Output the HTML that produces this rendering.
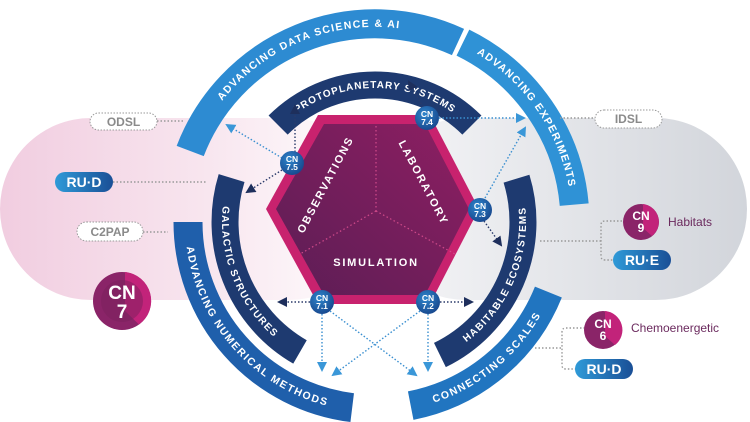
<!DOCTYPE html>
<html><head><meta charset="utf-8"><style>
html,body{margin:0;padding:0;background:#fff;width:750px;height:422px;overflow:hidden}
svg{display:block;font-family:"Liberation Sans",sans-serif;font-weight:bold}
</style></head><body>
<svg width="750" height="422" viewBox="0 0 750 422" xmlns="http://www.w3.org/2000/svg">
<defs>
<linearGradient id="gl" x1="0" x2="1" y1="0" y2="0"><stop offset="0" stop-color="#f1cde0"/><stop offset="0.55" stop-color="#f8e6ef"/><stop offset="1" stop-color="#ffffff"/></linearGradient>
<linearGradient id="gr" x1="0" x2="1" y1="0" y2="0"><stop offset="0" stop-color="#f6f6f8"/><stop offset="1" stop-color="#d2d5db"/></linearGradient>
<linearGradient id="hx" x1="0" x2="1" y1="1" y2="0"><stop offset="0" stop-color="#5b1d55"/><stop offset="1" stop-color="#8e1f62"/></linearGradient>
<linearGradient id="pill" x1="0" x2="1"><stop offset="0" stop-color="#2f9ad8"/><stop offset="1" stop-color="#1a4f96"/></linearGradient>
<radialGradient id="cn" cx="0.4" cy="0.35" r="0.7"><stop offset="0" stop-color="#2f86cc"/><stop offset="1" stop-color="#17468c"/></radialGradient>
<marker id="ad" markerWidth="10" markerHeight="10" refX="8" refY="5" orient="auto" markerUnits="userSpaceOnUse"><path d="M0,0 L10,5 L0,10 Z" fill="#1e2f5c"/></marker>
<marker id="al" markerWidth="10" markerHeight="10" refX="8" refY="5" orient="auto" markerUnits="userSpaceOnUse"><path d="M0,0 L10,5 L0,10 Z" fill="#3a97d8"/></marker>
<path id="p1" d="M190.2,151 A198 198 0 0 1 458,42"/>
<path id="p2" d="M462.9,42.6 A200 200 0 0 1 574.2,204.6"/>
<path id="p3" d="M188,222 A187 187 0 0 0 352.2,407.6"/>
<path id="p4" d="M410.7,405.6 A187 187 0 0 0 548.4,292.1"/>
<path id="q1" d="M278.1,125.1 A137 137 0 0 1 471.9,125.1"/>
<path id="q2" d="M231.6,178.1 A150 150 0 0 0 300,351.9"/>
<path id="q3" d="M439.9,355 A148 148 0 0 0 516.5,178.7"/>
</defs>
<rect x="0" y="118" width="380" height="182" rx="91" fill="url(#gl)"/>
<rect x="375" y="118" width="372" height="182" rx="91" fill="url(#gr)"/>

<g fill="none" stroke-width="29">
<use href="#p1" stroke="#2d8bd2"/>
<use href="#p2" stroke="#2f92d6"/>
<use href="#p3" stroke="#1f5fab"/>
<use href="#p4" stroke="#2175c0"/>
</g>
<g fill="none" stroke-width="27" stroke="#1e3a70">
<use href="#q1"/><use href="#q2"/><use href="#q3"/>
</g>
<g fill="#fff" font-size="10.5" letter-spacing="1.4" dominant-baseline="central" text-anchor="middle">
<text><textPath href="#p1" startOffset="50%">ADVANCING DATA SCIENCE &amp; AI</textPath></text>
<text><textPath href="#p2" startOffset="50%">ADVANCING EXPERIMENTS</textPath></text>
<text><textPath href="#p3" startOffset="50%">ADVANCING NUMERICAL METHODS</textPath></text>
<text><textPath href="#p4" startOffset="50%">CONNECTING SCALES</textPath></text>
</g>
<g fill="#fff" font-size="10" letter-spacing="1.1" dominant-baseline="central" text-anchor="middle">
<text><textPath href="#q1" startOffset="50%">PROTOPLANETARY SYSTEMS</textPath></text>
<text><textPath href="#q2" startOffset="50%">GALACTIC STRUCTURES</textPath></text>
<text><textPath href="#q3" startOffset="50%">HABITABLE ECOSYSTEMS</textPath></text>
</g>

<polygon points="318,115 430,115 479,209 430,304 318,304 266,209" fill="#c8226e"/>
<polygon points="324,124 425,124 469,209 425,295 324,295 276,209" fill="url(#hx)"/>
<g stroke="#d04a8a" stroke-width="1.2" stroke-dasharray="1.5 2.5" fill="none">
<line x1="376" y1="126" x2="376" y2="211"/>
<line x1="376" y1="211" x2="300" y2="254"/>
<line x1="376" y1="211" x2="455" y2="254"/>
</g>
<g fill="#fff" font-size="11" letter-spacing="1.8" text-anchor="middle" dominant-baseline="central">
<text transform="translate(326,185) rotate(-62)">OBSERVATIONS</text>
<text transform="translate(423,183) rotate(62)">LABORATORY</text>
<text x="376" y="263">SIMULATION</text>
</g>

<g fill="none" stroke-width="1.4" stroke-dasharray="1.5 2">
<g stroke="#2a3a6a">
<line x1="295" y1="152" x2="295" y2="106" marker-end="url(#ad)"/>
<line x1="282" y1="170" x2="247" y2="192" marker-end="url(#ad)"/>
<line x1="423" y1="107" x2="409" y2="82" marker-end="url(#ad)"/>
<line x1="484" y1="221" x2="501" y2="245" marker-end="url(#ad)"/>
<line x1="310" y1="302" x2="279" y2="302" marker-end="url(#ad)"/>
<line x1="440" y1="302" x2="472" y2="302" marker-end="url(#ad)"/>
</g>
<g stroke="#3a8fd0">
<line x1="282" y1="158" x2="227" y2="125" marker-end="url(#al)"/>
<line x1="439" y1="118" x2="524" y2="118" marker-end="url(#al)"/>
<line x1="485" y1="198" x2="525" y2="128" marker-end="url(#al)"/>
<line x1="322" y1="314" x2="322" y2="370" marker-end="url(#al)"/>
<line x1="330" y1="311" x2="416" y2="375" marker-end="url(#al)"/>
<line x1="428" y1="314" x2="428" y2="370" marker-end="url(#al)"/>
<line x1="420" y1="311" x2="333" y2="375" marker-end="url(#al)"/>
</g>
<g stroke="#999">
<line x1="157" y1="121" x2="185" y2="121"/>
<line x1="113" y1="182" x2="207" y2="182"/>
<line x1="143" y1="232" x2="168" y2="232"/>
<line x1="560" y1="118" x2="595" y2="118"/>
<line x1="540" y1="241" x2="601" y2="241"/>
<path d="M622,221 H605 Q601,221 601,225 V256 Q601,260 605,260 H614"/>
<line x1="535" y1="348" x2="562" y2="348"/>
<path d="M585,328 H566 Q562,328 562,332 V365 Q562,369 566,369 H576"/>
</g>
</g>

<g font-size="8.5" fill="#fff" text-anchor="middle">
<g transform="translate(292,163)"><circle r="12" fill="url(#cn)"/><text y="-1">CN</text><text y="7">7.5</text></g>
<g transform="translate(427,118)"><circle r="12" fill="url(#cn)"/><text y="-1">CN</text><text y="7">7.4</text></g>
<g transform="translate(480,210)"><circle r="12" fill="url(#cn)"/><text y="-1">CN</text><text y="7">7.3</text></g>
<g transform="translate(322,302)"><circle r="12" fill="url(#cn)"/><text y="-1">CN</text><text y="7">7.1</text></g>
<g transform="translate(428,302)"><circle r="12" fill="url(#cn)"/><text y="-1">CN</text><text y="7">7.2</text></g>
</g>

<g text-anchor="middle" dominant-baseline="central">
<rect x="90" y="113" width="67" height="17" rx="8.5" fill="#fff" stroke="#999" stroke-dasharray="1.5 1.5"/>
<text x="123.5" y="122" font-size="12" fill="#8a8a8a">ODSL</text>
<rect x="77" y="222" width="66" height="19" rx="9.5" fill="#fff" stroke="#999" stroke-dasharray="1.5 1.5"/>
<text x="110" y="232" font-size="12" fill="#8a8a8a">C2PAP</text>
<rect x="595" y="110" width="67" height="18" rx="9" fill="#fff" stroke="#999" stroke-dasharray="1.5 1.5"/>
<text x="628.5" y="119" font-size="12" fill="#8a8a8a">IDSL</text>
<rect x="55" y="172" width="58" height="20" rx="10" fill="url(#pill)"/>
<text x="84" y="182" font-size="14" fill="#fff">RU·D</text>
<rect x="613" y="250" width="58" height="20" rx="10" fill="url(#pill)"/>
<text x="642" y="260" font-size="14" fill="#fff">RU·E</text>
<rect x="575" y="359" width="58" height="20" rx="10" fill="url(#pill)"/>
<text x="604" y="369" font-size="14" fill="#fff">RU·D</text>
</g>

<g text-anchor="middle" fill="#fff">
<g transform="translate(122,301)">
<circle r="29" fill="#8a2468"/><path d="M3,-29 A29 29 0 0 1 17,23.5 L3,10 Z" fill="#c2237a"/><circle r="21" fill="#7a1f5c" opacity="0.5"/>
<text y="-2" font-size="19">CN</text><text y="17" font-size="19">7</text></g>
<g transform="translate(641,222)">
<circle r="18" fill="#8a2468"/><path d="M2,-18 A18 18 0 0 1 11,14 L2,6 Z" fill="#c2237a"/>
<text y="-2" font-size="12">CN</text><text y="10" font-size="12">9</text></g>
<g transform="translate(603,330)">
<circle r="19" fill="#8a2468"/><path d="M2,-19 A19 19 0 0 1 12,15 L2,6 Z" fill="#c2237a"/>
<text y="-2" font-size="12">CN</text><text y="10" font-size="12">6</text></g>
</g>
<g font-size="12" fill="#6b2a5e" dominant-baseline="central">
<text x="668" y="222" style="font-weight:normal">Habitats</text>
<text x="631" y="328" style="font-weight:normal">Chemoenergetic</text>
</g>
</svg>
</body></html>
